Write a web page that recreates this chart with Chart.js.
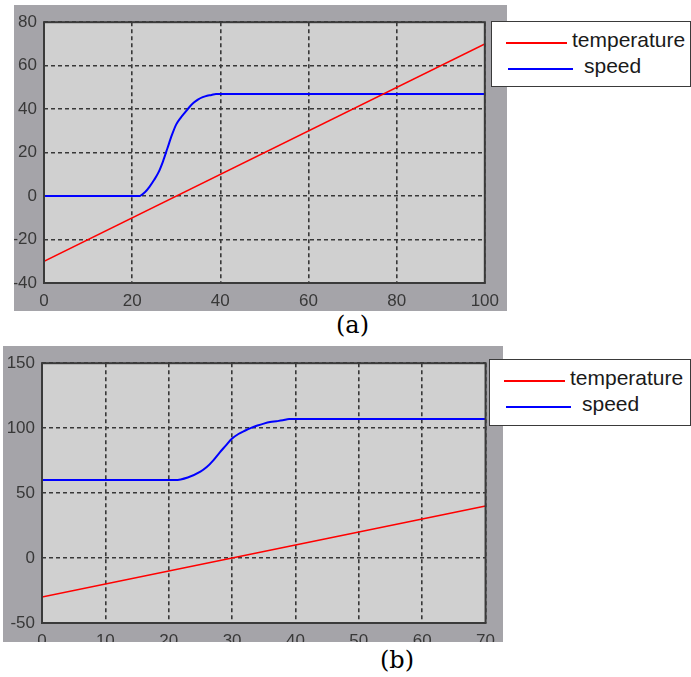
<!DOCTYPE html>
<html>
<head>
<meta charset="utf-8">
<script src="https://cdn.jsdelivr.net/npm/chart.js@4.4.0/dist/chart.umd.min.js"></script>
<style>
  body { margin: 0; background: #fff; }
  #wrap { position: relative; width: 691px; height: 677px; overflow: hidden; }
  canvas { position: absolute; background: #a5a4a9; }
  .legend { position: absolute; background: #fff; border: 1px solid #3a3a3a; box-sizing: border-box;
            font-family: "Liberation Sans", Arial, sans-serif; font-size: 21px; color: #1a1a1a; }
  .legend .s { position: absolute; height: 0; border-top: 2px solid; }
  .legend .t { position: absolute; line-height: 20px; white-space: pre; }
  .cap { position: absolute; font-family: "DejaVu Serif", serif; font-size: 24px; color: #000; }
</style>
</head>
<body>
<div id="wrap">
  <canvas id="chartA" width="493" height="306" style="left:14px;top:5px"></canvas>
  <div class="legend" id="legendA" style="left:491px;top:21px;width:200px;height:66px"></div>
  <div class="cap" style="left:336px;top:311px">(a)</div>

  <canvas id="chartB" width="500" height="296" style="left:3px;top:346px"></canvas>
  <div class="legend" id="legendB" style="left:489px;top:359px;width:202px;height:67px"></div>
  <div class="cap" style="left:380px;top:646px">(b)</div>
</div>
<script>
// ---- chart (a) ----
const xTicksA = [0, 20, 40, 60, 80, 100];
const yTicksA = [-40, -20, 0, 20, 40, 60, 80];
const tempAx = [0, 100];
const tempAy = [-30, 70];
const speedAx = [0, 21.5, 23, 24, 25, 26, 27, 28, 29, 30, 31, 32, 33, 34, 35, 36, 37, 38, 39, 40, 100];
const speedAy = [0, 0, 2, 4.5, 7.5, 11, 16, 22, 28, 33, 36, 38.5, 41, 43, 44.5, 45.5, 46.2, 46.5, 47, 47, 47];

// ---- chart (b) ----
const xTicksB = [0, 10, 20, 30, 40, 50, 60, 70];
const yTicksB = [-50, 0, 50, 100, 150];
const tempBx = [0, 70];
const tempBy = [-30, 40];
const speedBx = [0, 21, 23, 25, 26, 27, 28, 29, 30, 31, 32, 33, 34, 35, 36, 37, 38, 39, 70];
const speedBy = [60, 60, 62, 66.5, 70, 75, 81, 86.5, 92, 95.5, 98, 100.2, 102, 103.5, 104.7, 105.3, 106, 107, 107];

const seriesNames = ['temperature', 'speed'];
const seriesColors = ['#ff0000', '#0000ff'];

const toPoints = (xs, ys) => xs.map((x, i) => ({ x: x, y: ys[i] }));

const plotFrame = {
  id: 'plotFrame',
  beforeDraw(chart) {
    const { ctx, chartArea: a } = chart;
    ctx.save();
    ctx.fillStyle = '#d0d0d0';
    ctx.fillRect(a.left, a.top, a.width, a.height);
    ctx.restore();
  },
  afterDraw(chart) {
    const { ctx, chartArea: a } = chart;
    ctx.save();
    ctx.strokeStyle = '#3a3a3a';
    ctx.lineWidth = 2;
    ctx.strokeRect(a.left, a.top, a.width, a.height);
    ctx.restore();
  }
};

function axis(ticks, size, horizontal) {
  return {
    type: 'linear',
    min: ticks[0],
    max: ticks[ticks.length - 1],
    grid: { color: '#383838', lineWidth: 1.6, drawTicks: false },
    border: { display: false, dash: [4, 3] },
    ticks: {
      stepSize: ticks[1] - ticks[0],
      padding: horizontal ? 8 : 7,
      autoSkip: false,
      maxRotation: 0,
      color: '#383838',
      font: { family: '"Liberation Sans", Arial, sans-serif', size: 17 }
    },
    afterFit(scale) {
      if (horizontal) scale.height = size; else scale.width = size;
    }
  };
}

function makeChart(id, legendId, temp, speed, xt, yt, yw, xh, pad) {
  const datasets = [temp, speed].map((d, i) => ({
    label: seriesNames[i],
    data: d,
    borderColor: seriesColors[i],
    borderWidth: i === 0 ? 1.5 : 2,
    pointRadius: 0,
    fill: false,
    cubicInterpolationMode: 'monotone'
  }));
  new Chart(document.getElementById(id), {
    type: 'line',
    data: { datasets: datasets },
    options: {
      responsive: false,
      animation: false,
      layout: { padding: { left: 0, top: pad.top, right: pad.right, bottom: 0 } },
      plugins: { legend: { display: false }, tooltip: { enabled: false } },
      scales: { x: axis(xt, xh, true), y: axis(yt, yw, false) }
    },
    plugins: [plotFrame]
  });

  // legend drawn as html, built from the datasets
  const box = document.getElementById(legendId);
  const rows = [
    { y: 21, s0: 14, s1: 75, t: 80 },
    { y: 47, s0: 16, s1: 81, t: 92 }
  ];
  datasets.forEach((d, i) => {
    const r = rows[i];
    const s = document.createElement('div');
    s.className = 's';
    s.style.left = r.s0 + 'px';
    s.style.width = (r.s1 - r.s0) + 'px';
    s.style.top = (r.y - 1) + 'px';
    s.style.borderColor = d.borderColor;
    box.appendChild(s);
    const t = document.createElement('div');
    t.className = 't';
    t.style.left = r.t + 'px';
    t.style.top = (r.y - 13) + 'px';
    t.textContent = d.label;
    box.appendChild(t);
  });
}

makeChart('chartA', 'legendA', toPoints(tempAx, tempAy), toPoints(speedAx, speedAy),
  xTicksA, yTicksA, 30, 28, { top: 17, right: 17 });
makeChart('chartB', 'legendB', toPoints(tempBx, tempBy), toPoints(speedBx, speedBy),
  xTicksB, yTicksB, 39, 19, { top: 15, right: 15 });
</script>
</body>
</html>
